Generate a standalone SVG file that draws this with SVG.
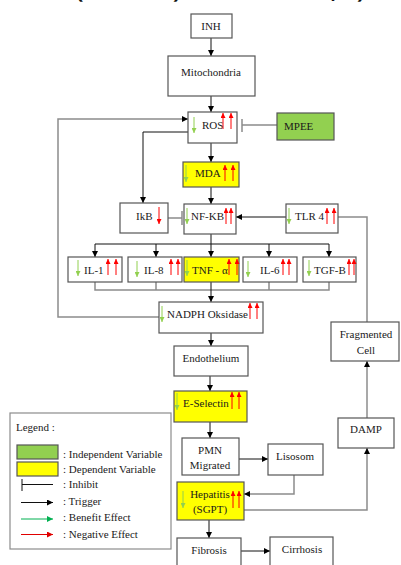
<svg xmlns="http://www.w3.org/2000/svg" width="401" height="565" viewBox="0 0 401 565">
<defs>
<style>
.t{font-family:"Liberation Serif","Times New Roman",serif;font-size:11px;fill:#1a1a1a}
.m{text-anchor:middle}
.b{fill:#fff;stroke:#555;stroke-width:1.2}
.y{fill:#ffff00;stroke:#555;stroke-width:1.2}
.g{fill:#92d050;stroke:#555;stroke-width:1.2}
.k{fill:none;stroke:#111;stroke-width:1}
.gr{fill:none;stroke:#8c8c8c;stroke-width:1.5}
.up{stroke:#ff0000;stroke-width:1;marker-end:url(#rh)}
.dn{stroke:#92d050;stroke-width:1;marker-end:url(#gh)}
.rd{stroke:#ff0000;stroke-width:1;marker-end:url(#rh)}
.top{font-family:"Open Sans",sans-serif;font-size:22px;font-weight:bold;fill:#111}
</style>
<marker id="ah" viewBox="0 0 10 10" refX="10" refY="5" markerWidth="6" markerHeight="6" orient="auto" markerUnits="userSpaceOnUse"><path d="M0,0 L10,5 L0,10 z" fill="#000"/></marker>
<marker id="rh" viewBox="0 0 10 10" refX="10" refY="5" markerWidth="5" markerHeight="5" orient="auto" markerUnits="userSpaceOnUse"><path d="M0,0 L10,5 L0,10 z" fill="#ff0000"/></marker>
<marker id="gh" viewBox="0 0 10 10" refX="10" refY="5" markerWidth="5" markerHeight="5" orient="auto" markerUnits="userSpaceOnUse"><path d="M0,0 L10,5 L0,10 z" fill="#92d050"/></marker>
<marker id="lg" viewBox="0 0 10 10" refX="10" refY="5" markerWidth="6" markerHeight="6" orient="auto" markerUnits="userSpaceOnUse"><path d="M0,0 L10,5 L0,10 z" fill="#00b050"/></marker>
<marker id="lr" viewBox="0 0 10 10" refX="10" refY="5" markerWidth="6" markerHeight="6" orient="auto" markerUnits="userSpaceOnUse"><path d="M0,0 L10,5 L0,10 z" fill="#e00000"/></marker>
</defs>
<rect width="401" height="565" fill="#fff"/>
<g id="cut-caption">
<text class="top" x="76" y="-2">(</text>
<text class="top" x="173" y="-2">)</text>
<text class="top" x="331" y="-2">,</text>
<text class="top" x="357" y="-2">)</text>
</g>
<g id="connectors">
<path class="k" d="M211,38 V56" marker-end="url(#ah)"/>
<path class="k" d="M211,96 V112" marker-end="url(#ah)"/>
<path class="k" d="M188,132 H143 V203" marker-end="url(#ah)"/>
<path class="k" d="M211,143 V162" marker-end="url(#ah)"/>
<path class="k" d="M211,187 V204" marker-end="url(#ah)"/>
<path class="k" d="M286,217 H236" marker-end="url(#ah)"/>
<path class="k" d="M211,234 V244 M95,244 H329"/>
<path class="k" d="M95,244 V257" marker-end="url(#ah)"/>
<path class="k" d="M156,244 V257" marker-end="url(#ah)"/>
<path class="k" d="M211,244 V257" marker-end="url(#ah)"/>
<path class="k" d="M269,244 V257" marker-end="url(#ah)"/>
<path class="k" d="M329,244 V257" marker-end="url(#ah)"/>
<path class="gr" d="M95,282 V290 H329 V282 M156,282 V290 M269,282 V290"/>
<path class="k" d="M211,282 V302" marker-end="url(#ah)"/>
<path class="k" d="M211,333 V346" marker-end="url(#ah)"/>
<path class="k" d="M210,376 V391" marker-end="url(#ah)"/>
<path class="k" d="M210,422 V438" marker-end="url(#ah)"/>
<path class="k" d="M239,459 H268" marker-end="url(#ah)"/>
<path class="gr" d="M294,475 V494 H244" marker-end="url(#ah)"/>
<path class="gr" d="M244,510 H367 V448" marker-end="url(#ah)"/>
<path class="gr" d="M367,418 V361" marker-end="url(#ah)"/>
<path class="gr" d="M338,217 H367 V322"/>
<path class="k" d="M209,520 V538" marker-end="url(#ah)"/>
<path class="k" d="M241,551 H270" marker-end="url(#ah)"/>
<path class="gr" d="M159,317 H58 V119 H188" marker-end="url(#ah)"/>
<path class="gr" d="M277,125 H242 M242,119 V132"/>
<path class="gr" d="M168,218 H182 M182,211 V225"/>
</g>
<g id="inh"><rect class="b" x="191" y="14" width="41" height="24"/><text class="t m" x="211" y="30">INH</text></g>
<g id="mitochondria"><rect class="b" x="168" y="56" width="87" height="40"/><text class="t m" x="211" y="76">Mitochondria</text></g>
<g id="ros"><rect class="b" x="188" y="112" width="49" height="31"/><text class="t" x="202" y="129">ROS</text>
<line class="dn" x1="194" y1="117" x2="194" y2="133"/><line class="up" x1="223" y1="129" x2="223" y2="113"/><line class="up" x1="231" y1="129" x2="231" y2="113"/></g>
<g id="mpee"><rect class="g" x="277" y="113" width="57" height="27"/><text class="t" x="284" y="130">MPEE</text></g>
<g id="mda"><rect class="y" x="183" y="162" width="56" height="25"/><text class="t" x="195" y="177">MDA</text>
<line class="dn" x1="186" y1="165" x2="186" y2="182"/><line class="up" x1="225" y1="181" x2="225" y2="165"/><line class="up" x1="233" y1="181" x2="233" y2="165"/></g>
<g id="ikb"><rect class="b" x="120" y="203" width="48" height="30"/><text class="t" x="136" y="220">IkB</text>
<line class="rd" x1="159" y1="207" x2="159" y2="224"/></g>
<g id="nfkb"><rect class="b" x="184" y="204" width="52" height="30"/><text class="t" x="191" y="220">NF-KB</text>
<line class="dn" x1="187" y1="208" x2="187" y2="224"/><line class="up" x1="226" y1="224" x2="226" y2="208"/><line class="up" x1="231" y1="224" x2="231" y2="208"/></g>
<g id="tlr4"><rect class="b" x="286" y="204" width="52" height="29"/><text class="t" x="295" y="220">TLR 4</text>
<line class="dn" x1="289" y1="208" x2="289" y2="224"/><line class="up" x1="327" y1="224" x2="327" y2="208"/><line class="up" x1="334" y1="224" x2="334" y2="208"/></g>
<g id="il1"><rect class="b" x="68" y="257" width="54" height="25"/><text class="t" x="84" y="274">IL-1</text>
<line class="dn" x1="78" y1="260" x2="78" y2="276"/><line class="up" x1="108" y1="275" x2="108" y2="259"/><line class="up" x1="116" y1="275" x2="116" y2="259"/></g>
<g id="il8"><rect class="b" x="128" y="257" width="54" height="25"/><text class="t" x="144" y="274">IL-8</text>
<line class="dn" x1="137" y1="261" x2="137" y2="277"/><line class="up" x1="171" y1="275" x2="171" y2="259"/><line class="up" x1="178" y1="275" x2="178" y2="259"/></g>
<g id="tnf"><rect class="y" x="184" y="257" width="55" height="25"/><text class="t" x="192" y="274">TNF - α</text>
<line class="dn" x1="187" y1="260" x2="187" y2="276"/><line class="up" x1="229" y1="275" x2="229" y2="259"/><line class="up" x1="237" y1="275" x2="237" y2="259"/></g>
<g id="il6"><rect class="b" x="243" y="257" width="54" height="25"/><text class="t" x="260" y="274">IL-6</text>
<line class="dn" x1="248" y1="261" x2="248" y2="277"/><line class="up" x1="283" y1="275" x2="283" y2="259"/><line class="up" x1="289" y1="275" x2="289" y2="259"/></g>
<g id="tgfb"><rect class="b" x="303" y="257" width="53" height="25"/><text class="t" x="314" y="274">TGF-B</text>
<line class="dn" x1="309" y1="260" x2="309" y2="276"/><line class="up" x1="349" y1="275" x2="349" y2="259"/><line class="up" x1="354" y1="275" x2="354" y2="259"/></g>
<g id="nadph"><rect class="b" x="159" y="302" width="104" height="31"/><text class="t" x="167" y="318">NADPH Oksidase</text>
<line class="dn" x1="162" y1="306" x2="162" y2="322"/><line class="up" x1="250" y1="319" x2="250" y2="303"/><line class="up" x1="257" y1="319" x2="257" y2="303"/></g>
<g id="endothelium"><rect class="b" x="174" y="346" width="74" height="30"/><text class="t m" x="211" y="362">Endothelium</text></g>
<g id="fragmented-cell"><rect class="b" x="331" y="322" width="68" height="39"/><text class="t m" x="366" y="338">Fragmented</text><text class="t m" x="366" y="354">Cell</text></g>
<g id="e-selectin"><rect class="y" x="174" y="391" width="73" height="31"/><text class="t" x="183" y="407">E-Selectin</text>
<line class="dn" x1="177" y1="393" x2="177" y2="410"/><line class="up" x1="232" y1="409" x2="232" y2="392"/><line class="up" x1="239" y1="409" x2="239" y2="392"/></g>
<g id="damp"><rect class="b" x="338" y="418" width="56" height="30"/><text class="t m" x="366" y="433">DAMP</text></g>
<g id="pmn"><rect class="b" x="182" y="438" width="57" height="37"/><text class="t m" x="210" y="454">PMN</text><text class="t m" x="210" y="469">Migrated</text></g>
<g id="lisosom"><rect class="b" x="268" y="444" width="55" height="31"/><text class="t m" x="295" y="460">Lisosom</text></g>
<g id="hepatitis"><rect class="y" x="177" y="482" width="67" height="38"/><text class="t m" x="210" y="498">Hepatitis</text><text class="t m" x="210" y="513">(SGPT)</text>
<line class="dn" x1="183" y1="491" x2="183" y2="508"/><line class="up" x1="233" y1="508" x2="233" y2="491"/><line class="up" x1="239" y1="508" x2="239" y2="491"/></g>
<g id="fibrosis"><rect class="b" x="177" y="538" width="64" height="32"/><text class="t m" x="209" y="554">Fibrosis</text></g>
<g id="cirrhosis"><rect class="b" x="270" y="537" width="63" height="33"/><text class="t m" x="302" y="553">Cirrhosis</text></g>
<g id="legend">
<rect x="10" y="413" width="161" height="136" fill="#fff" stroke="#8c8c8c" stroke-width="1.2"/>
<text class="t" x="16" y="431">Legend :</text>
<rect class="g" x="17" y="445" width="41" height="14"/>
<rect class="y" x="17" y="462" width="41" height="14"/>
<path d="M22,479 V491 M22,484.5 H53" stroke="#111" stroke-width="1" fill="none"/>
<path d="M21,502.5 H53" stroke="#111" stroke-width="1" marker-end="url(#ah)"/>
<path d="M21,519 H53" stroke="#00b050" stroke-width="1" marker-end="url(#lg)"/>
<path d="M21,534.5 H53" stroke="#e00000" stroke-width="1" marker-end="url(#lr)"/>
<text class="t" x="63" y="458">: Independent Variable</text>
<text class="t" x="63" y="473">: Dependent Variable</text>
<text class="t" x="63" y="488">: Inhibit</text>
<text class="t" x="63" y="505">: Trigger</text>
<text class="t" x="63" y="521">: Benefit Effect</text>
<text class="t" x="63" y="538">: Negative Effect</text>
</g>
</svg>
